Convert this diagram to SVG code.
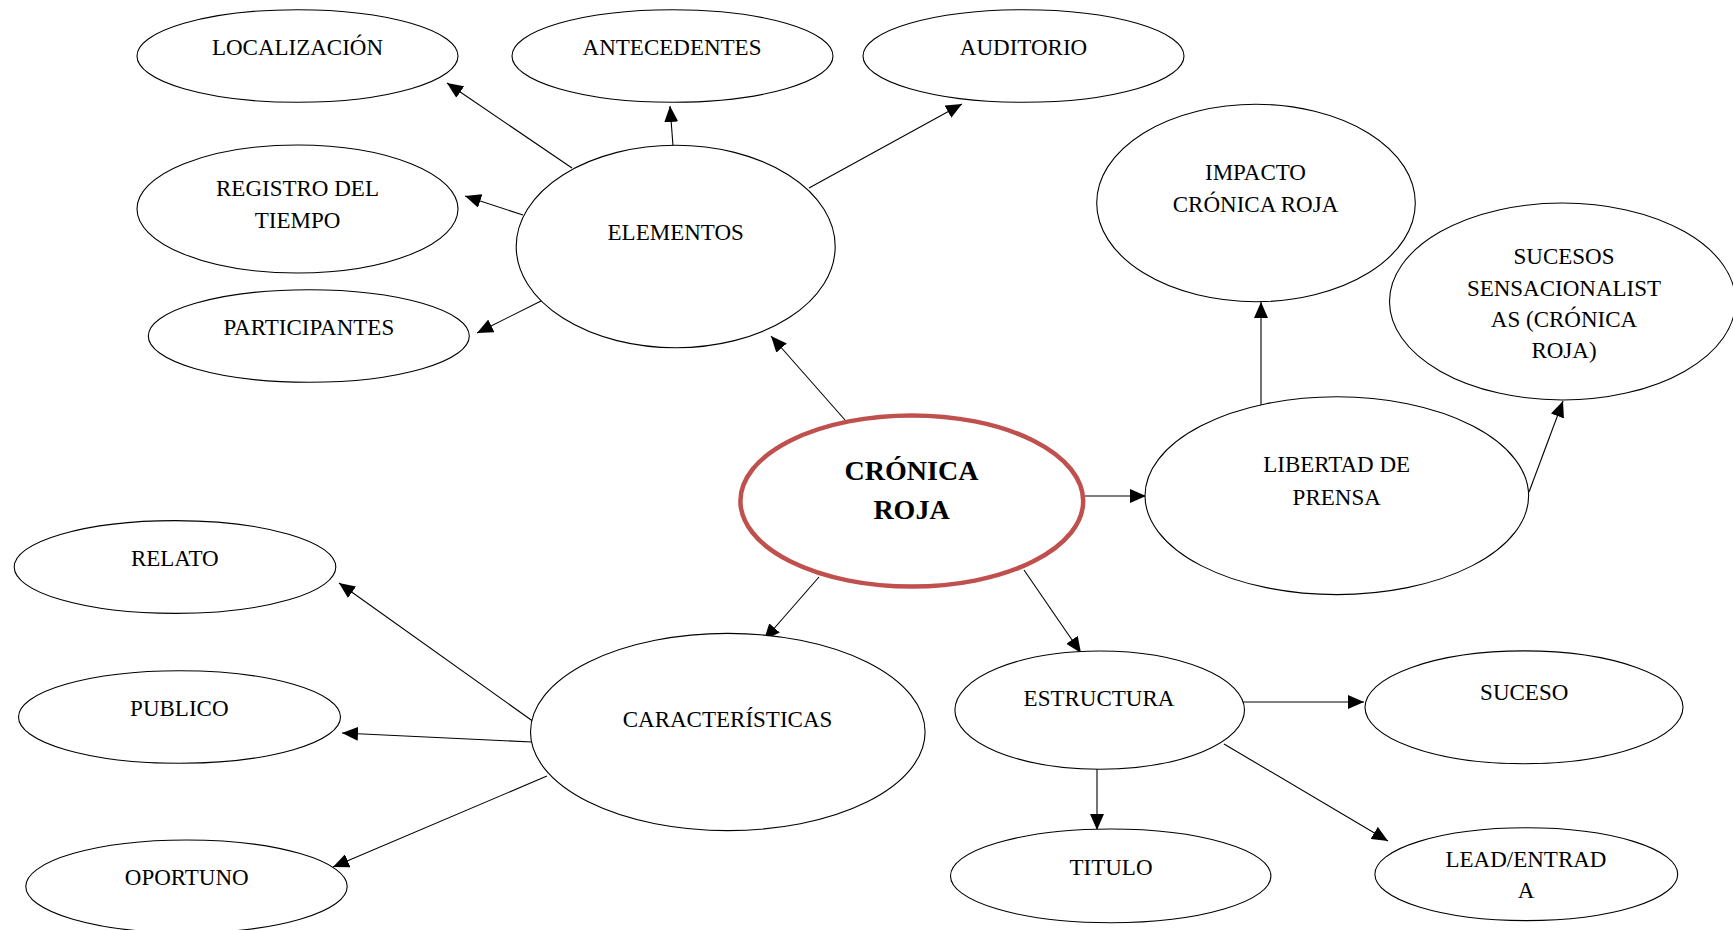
<svg xmlns="http://www.w3.org/2000/svg" width="1733" height="930" viewBox="0 0 1733 930">
<defs>
<style>
.n ellipse{fill:#fff;stroke:#000;stroke-width:1.1}
.n text{font-family:"Liberation Serif","Times New Roman",serif;font-size:23px;fill:#000;text-anchor:middle}
#cronica ellipse{stroke:#C0504D;stroke-width:4.5}
#cronica text{font-weight:bold;font-size:28px}
.c line{stroke:#000;stroke-width:1.1;marker-end:url(#ah)}
</style>
<marker id="ah" markerUnits="userSpaceOnUse" markerWidth="17" markerHeight="14" refX="16" refY="7" orient="auto">
<path d="M0,0 L16,7 L0,14 z" fill="#000"/>
</marker>
</defs>
<rect width="1733" height="930" fill="#fff"/>
<g class="c" id="connectors">
<line x1="572" y1="168" x2="447" y2="83"/>
<line x1="673" y1="146" x2="670" y2="106"/>
<line x1="809" y1="188" x2="962" y2="104"/>
<line x1="523" y1="215" x2="465" y2="196"/>
<line x1="541" y1="301" x2="477" y2="333"/>
<line x1="845" y1="420" x2="771" y2="336"/>
<line x1="1261" y1="405" x2="1261" y2="302"/>
<line x1="1529" y1="492" x2="1563" y2="401"/>
<line x1="1085" y1="496" x2="1146" y2="496"/>
<line x1="819" y1="577" x2="764" y2="640"/>
<line x1="1024" y1="570" x2="1081" y2="653"/>
<line x1="1242" y1="702" x2="1364" y2="702"/>
<line x1="1097" y1="769" x2="1097" y2="830"/>
<line x1="1224" y1="744" x2="1388" y2="841"/>
<line x1="534" y1="722" x2="339" y2="583"/>
<line x1="532" y1="742" x2="342" y2="733"/>
<line x1="547" y1="776" x2="333" y2="867"/>
</g>
<g class="n" id="localizacion"><ellipse cx="297.5" cy="56" rx="160.5" ry="46.3"/><text x="297.5" y="55">LOCALIZACIÓN</text></g>
<g class="n" id="antecedentes"><ellipse cx="672.5" cy="56" rx="160.5" ry="46.3"/><text x="672" y="55">ANTECEDENTES</text></g>
<g class="n" id="auditorio"><ellipse cx="1023.5" cy="56" rx="160.5" ry="46.3"/><text x="1023.5" y="55">AUDITORIO</text></g>
<g class="n" id="registro"><ellipse cx="297.5" cy="209" rx="160.5" ry="64"/><text x="297.5" y="196">REGISTRO DEL</text><text x="297.5" y="227.5">TIEMPO</text></g>
<g class="n" id="participantes"><ellipse cx="308.8" cy="336" rx="160.5" ry="46.3"/><text x="308.8" y="335">PARTICIPANTES</text></g>
<g class="n" id="elementos"><ellipse cx="675.7" cy="246.5" rx="159.5" ry="101.2"/><text x="675.7" y="240">ELEMENTOS</text></g>
<g class="n" id="impacto"><ellipse cx="1256" cy="203" rx="159.3" ry="98.7"/><text x="1255.5" y="180">IMPACTO</text><text x="1255.5" y="211.5">CRÓNICA ROJA</text></g>
<g class="n" id="sucesos"><ellipse cx="1562.5" cy="301.5" rx="173" ry="98.5"/><text x="1564" y="264.3">SUCESOS</text><text x="1564" y="295.5">SENSACIONALIST</text><text x="1564" y="326.5">AS (CRÓNICA</text><text x="1564" y="358">ROJA)</text></g>
<g class="n" id="libertad"><ellipse cx="1336.8" cy="495.7" rx="191.8" ry="98.9"/><text x="1336.7" y="472">LIBERTAD DE</text><text x="1336.7" y="505">PRENSA</text></g>
<g class="n" id="cronica"><ellipse cx="911.8" cy="501" rx="171.4" ry="85.6"/><text x="911.5" y="480">CRÓNICA</text><text x="911.5" y="518.5">ROJA</text></g>
<g class="n" id="estructura"><ellipse cx="1099.7" cy="710.1" rx="144.8" ry="59.1"/><text x="1099" y="706">ESTRUCTURA</text></g>
<g class="n" id="suceso"><ellipse cx="1524" cy="707.3" rx="159" ry="56.4"/><text x="1524.2" y="700.4">SUCESO</text></g>
<g class="n" id="titulo"><ellipse cx="1110.7" cy="875.9" rx="160.2" ry="46.9"/><text x="1111" y="874.6">TITULO</text></g>
<g class="n" id="lead"><ellipse cx="1526.3" cy="874.2" rx="151.4" ry="46.4"/><text x="1526" y="866.5">LEAD/ENTRAD</text><text x="1526" y="897.5">A</text></g>
<g class="n" id="caracteristicas"><ellipse cx="727.8" cy="732" rx="197.3" ry="98.6"/><text x="727.5" y="727.3">CARACTERÍSTICAS</text></g>
<g class="n" id="relato"><ellipse cx="175" cy="567" rx="160.8" ry="46.4"/><text x="174.8" y="565.7">RELATO</text></g>
<g class="n" id="publico"><ellipse cx="179.5" cy="717" rx="161" ry="46.3"/><text x="179.3" y="716">PUBLICO</text></g>
<g class="n" id="oportuno"><ellipse cx="186.5" cy="886.4" rx="160.7" ry="46.4"/><text x="186.7" y="885">OPORTUNO</text></g>
</svg>
